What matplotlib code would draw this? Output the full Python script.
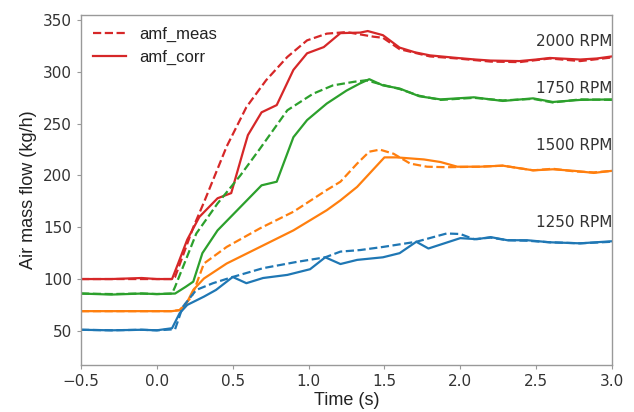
import matplotlib
matplotlib.use("Agg")
import matplotlib.pyplot as plt

# ---------------- data ----------------
t_2000_corr = [-0.5, -0.3, -0.1, 0.0, 0.10, 0.14, 0.20, 0.28, 0.40, 0.49, 0.57, 0.60, 0.69, 0.79,
               0.90, 0.99, 1.10, 1.21, 1.34, 1.39, 1.49, 1.60, 1.70, 1.80, 1.98, 2.10, 2.20,
               2.39, 2.50, 2.59, 2.79, 2.90, 3.0]
v_2000_corr = [100, 100, 101, 100, 100, 115, 138, 160, 178, 183, 224, 239, 261, 268,
               302, 318, 324, 337.5, 338, 339.5, 335.5, 323.5, 319, 316, 313.5, 312, 311,
               310.5, 312, 313.5, 312, 313, 315]
t_2000_meas = [-0.5, -0.3, -0.1, 0.0, 0.10, 0.12, 0.24, 0.31, 0.46, 0.59, 0.72, 0.86, 0.99, 1.12,
               1.25, 1.35, 1.43, 1.49, 1.60, 1.80, 1.98, 2.20, 2.39, 2.59, 2.79, 3.0]
v_2000_meas = [100, 100, 100, 100, 100, 102, 150, 174, 228, 266, 292, 314.5, 330.5, 337,
               338.5, 336, 334, 333, 322, 315, 313, 310, 309.5, 313, 310.5, 314]

t_1750_corr = [-0.5, -0.3, -0.1, 0.0, 0.12, 0.19, 0.24, 0.30, 0.40, 0.53, 0.69, 0.79, 0.90, 0.99,
               1.12, 1.25, 1.34, 1.40, 1.49, 1.60, 1.73, 1.87, 2.09, 2.28, 2.48, 2.61, 2.79, 3.0]
v_1750_corr = [86, 85, 86, 85.5, 86, 92.5, 97.5, 125, 147, 166.5, 190.5, 194, 237, 253.5,
               269.5, 282, 289, 293, 287, 284, 276.5, 273.5, 275.5, 272, 274.5, 271, 273, 273.5]
t_1750_meas = [-0.5, -0.3, -0.1, 0.0, 0.10, 0.12, 0.26, 0.40, 0.55, 0.68, 0.86, 1.03, 1.16, 1.30,
               1.38, 1.49, 1.60, 1.73, 1.87, 2.09, 2.28, 2.48, 2.61, 2.79, 3.0]
v_1750_meas = [86, 85.5, 86, 85.5, 86, 92.5, 144, 173, 200, 226, 263, 279, 287, 290.5,
               292, 287.5, 283.5, 277, 273, 275, 272.5, 274, 270.5, 273.5, 273]

t_1500_corr = [-0.5, -0.3, -0.1, 0.0, 0.10, 0.15, 0.19, 0.24, 0.31, 0.46, 0.68, 0.90, 1.12, 1.21,
               1.32, 1.50, 1.58, 1.76, 1.87, 1.98, 2.13, 2.28, 2.48, 2.61, 2.75, 2.88, 3.0]
v_1500_corr = [69, 69, 69, 69, 69, 70, 75, 89.5, 100.5, 115, 131, 147, 166.5, 176,
               189, 217.5, 217.5, 215.5, 213, 208.5, 208.5, 209.5, 205, 206, 204.5, 202.5, 204.5]
t_1500_meas = [-0.5, -0.3, -0.1, 0.0, 0.10, 0.15, 0.23, 0.31, 0.46, 0.68, 0.90, 1.12, 1.21, 1.32,
               1.40, 1.47, 1.56, 1.67, 1.78, 1.91, 2.13, 2.28, 2.48, 2.61, 2.75, 2.88, 3.0]
v_1500_meas = [69, 69, 69, 69, 69, 70, 83, 115, 131, 149, 165, 186, 194, 211.5,
               223, 225, 221, 211.5, 208.5, 208, 208.5, 209.5, 205, 206.5, 204, 203, 204.5]

t_1250_corr = [-0.5, -0.3, -0.1, 0.0, 0.10, 0.15, 0.20, 0.31, 0.39, 0.50, 0.59, 0.70, 0.86, 1.01,
               1.11, 1.21, 1.32, 1.49, 1.60, 1.71, 1.79, 2.00, 2.11, 2.20, 2.31, 2.44, 2.59,
               2.79, 3.0]
v_1250_corr = [51, 50.5, 51, 50.5, 52.5, 67, 75, 83, 89.5, 102, 96, 101, 104, 109.5,
               121, 114.5, 118.5, 121, 125, 136, 129.5, 139.5, 138.5, 140.5, 137.5, 137.5, 135.5,
               134.5, 136.5]
t_1250_meas = [-0.5, -0.3, -0.1, 0.0, 0.12, 0.17, 0.26, 0.37, 0.50, 0.70, 0.92, 1.11, 1.21, 1.34,
               1.49, 1.71, 1.91, 2.00, 2.09, 2.20, 2.31, 2.44, 2.59, 2.79, 3.0]
v_1250_meas = [51, 50.5, 51, 50.5, 51.5, 73, 89.5, 96, 102, 110.5, 116.5, 121, 126.5, 128,
               131, 136, 144, 143.5, 138.5, 140, 137.5, 137, 135.5, 134.5, 136]

rpm_labels = ["2000 RPM", "1750 RPM", "1500 RPM", "1250 RPM"]
rpm_label_y = [329, 284, 229, 155]

# ---------------- plot ----------------
fig = plt.figure(figsize=(6.34, 4.12), dpi=100)
ax = fig.add_axes([0.1278, 0.1141, 0.8375, 0.8495])

series = [
    (t_2000_meas, v_2000_meas, t_2000_corr, v_2000_corr, "#d62728"),
    (t_1750_meas, v_1750_meas, t_1750_corr, v_1750_corr, "#2ca02c"),
    (t_1500_meas, v_1500_meas, t_1500_corr, v_1500_corr, "#ff7f0e"),
    (t_1250_meas, v_1250_meas, t_1250_corr, v_1250_corr, "#1f77b4"),
]
for i, (tm, vm, tc, vc, col) in enumerate(series):
    ax.plot(tm, vm, "--", color=col, lw=1.6, label="amf_meas" if i == 0 else None)
    ax.plot(tc, vc, "-", color=col, lw=1.6, label="amf_corr" if i == 0 else None)

for lab, y in zip(rpm_labels, rpm_label_y):
    ax.text(3.0, y, lab, ha="right", va="center", fontsize=11, color="#333333",
            family="DejaVu Sans")

ax.set_xlim(-0.5, 3.0)
ax.set_ylim(17, 355)
ax.set_xticks([-0.5, 0.0, 0.5, 1.0, 1.5, 2.0, 2.5, 3.0])
ax.set_yticks([50, 100, 150, 200, 250, 300, 350])
ax.tick_params(labelsize=11, colors="#333333", length=3, color="#999999")
for s in ax.spines.values():
    s.set_color("#999999")
    s.set_linewidth(1.0)

ax.set_xlabel("Time (s)", fontsize=13, family="Liberation Sans", color="#222222", labelpad=2)
ax.set_ylabel("Air mass flow (kg/h)", fontsize=13, family="Liberation Sans", color="#222222")

leg = ax.legend(loc="upper left", frameon=False, fontsize=12, handlelength=2.0,
                borderaxespad=0.3, prop={"family": "Liberation Sans", "size": 12})
for txt in leg.get_texts():
    txt.set_color("#222222")

fig.savefig("out.png", dpi=100)
